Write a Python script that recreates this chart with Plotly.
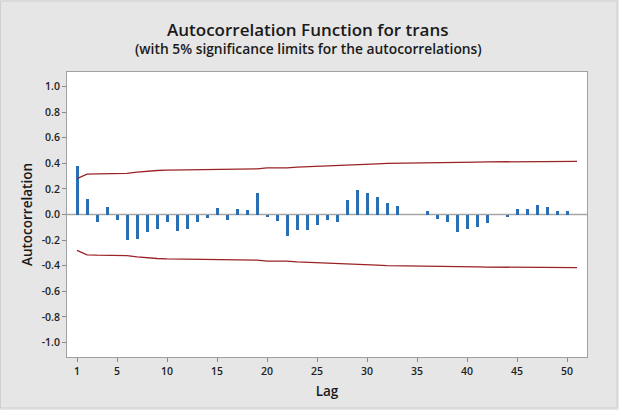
import plotly.graph_objects as go

lags = list(range(1, 52))
acf = [0.38, 0.12, -0.06, 0.06, -0.04, -0.20, -0.19, -0.14, -0.11, -0.06,
       -0.13, -0.11, -0.055, -0.03, 0.05, -0.045, 0.045, 0.035, 0.17, -0.02,
       -0.05, -0.17, -0.125, -0.125, -0.08, -0.04, -0.06, 0.11, 0.19, 0.165,
       0.14, 0.09, 0.065, 0.0, 0.0, 0.03, -0.035, -0.06, -0.14, -0.11,
       -0.10, -0.07, 0.0, -0.02, 0.04, 0.04, 0.075, 0.055, 0.03, 0.025, 0.0]
limit = [0.28, 0.315, 0.318, 0.319, 0.32, 0.321, 0.331, 0.339, 0.344, 0.347,
         0.348, 0.351, 0.354, 0.355, 0.355, 0.356, 0.356, 0.357, 0.357, 0.364,
         0.364, 0.364, 0.371, 0.374, 0.377, 0.378, 0.379, 0.381, 0.384, 0.39,
         0.395, 0.399, 0.400, 0.401, 0.401, 0.401, 0.401, 0.402, 0.402, 0.406,
         0.409, 0.411, 0.412, 0.412, 0.412, 0.412, 0.413, 0.414, 0.415, 0.415, 0.416]
ytickvals = [-1.0, -0.8, -0.6, -0.4, -0.2, 0.0, 0.2, 0.4, 0.6, 0.8, 1.0]
ytext = ["%.1f" % v for v in ytickvals]
xtickvals = [1, 5, 10, 15, 20, 25, 30, 35, 40, 45, 50]

FONT = "Open Sans"
BLUE = "#2a6fb3"
RED = "#9b2226"

fig = go.Figure()
fig.add_trace(go.Bar(x=lags, y=acf, width=0.3, marker=dict(color=BLUE, line=dict(width=0)),
                     showlegend=False))
fig.add_trace(go.Scatter(x=lags, y=limit, mode="lines", line=dict(color=RED, width=1.3),
                         showlegend=False))
fig.add_trace(go.Scatter(x=lags, y=[-v for v in limit], mode="lines",
                         line=dict(color=RED, width=1.3), showlegend=False))

fig.update_layout(
    width=619, height=410,
    margin=dict(l=67, r=32, t=72, b=53),
    paper_bgcolor="#e6e6e6", plot_bgcolor="white",
    font=dict(family=FONT, color="#222222"),
    bargap=0,
    annotations=[
        dict(text="Autocorrelation Function for trans", xref="paper", yref="paper",
             x=(307.5 - 67) / 520, y=(357 - 30) / 285, showarrow=False,
             xanchor="center", yanchor="middle",
             font=dict(size=17, family=FONT, weight=600, color="#1a1a1a")),
        dict(text="(with 5% significance limits for the autocorrelations)", xref="paper", yref="paper",
             x=(308.5 - 67) / 520, y=(357 - 49) / 285, showarrow=False,
             xanchor="center", yanchor="middle",
             font=dict(size=13.8, family=FONT, weight=600, color="#1a1a1a")),
    ],
    shapes=[
        dict(type="line", xref="paper", yref="y", x0=0, x1=1, y0=0, y1=0,
             line=dict(color="#a6a6a6", width=1.5), layer="below"),
        dict(type="rect", xref="paper", yref="paper",
             x0=(0.5 - 67) / 520, x1=(617 - 67) / 520,
             y0=(357 - 408) / 285, y1=(357 - 1) / 285,
             line=dict(color="#cfcfcf", width=1), fillcolor="rgba(0,0,0,0)", layer="below"),
    ],
)
fig.update_xaxes(range=[0, 52], tickvals=xtickvals, ticks="outside", ticklen=4,
                 tickcolor="#8a8a8a", showgrid=False, zeroline=False,
                 showline=True, mirror=True, linecolor="#a0a0a0", linewidth=1,
                 tickfont=dict(size=10.5, family=FONT, color="#222222", weight=600),
                 title=dict(text="Lag", font=dict(size=13.5, family=FONT, weight=600, color="#1a1a1a"),
                            standoff=9))
fig.update_yaxes(range=[-1.114, 1.114], tickvals=ytickvals, ticktext=ytext, ticks="outside",
                 ticklen=4, tickcolor="#8a8a8a", showgrid=False, zeroline=False,
                 showline=True, mirror=True, linecolor="#a0a0a0", linewidth=1,
                 tickfont=dict(size=10.5, family=FONT, color="#222222", weight=600),
                 title=dict(text="Autocorrelation", font=dict(size=13.5, family=FONT, weight=600, color="#1a1a1a"),
                            standoff=5))

fig.write_html("out.html")
